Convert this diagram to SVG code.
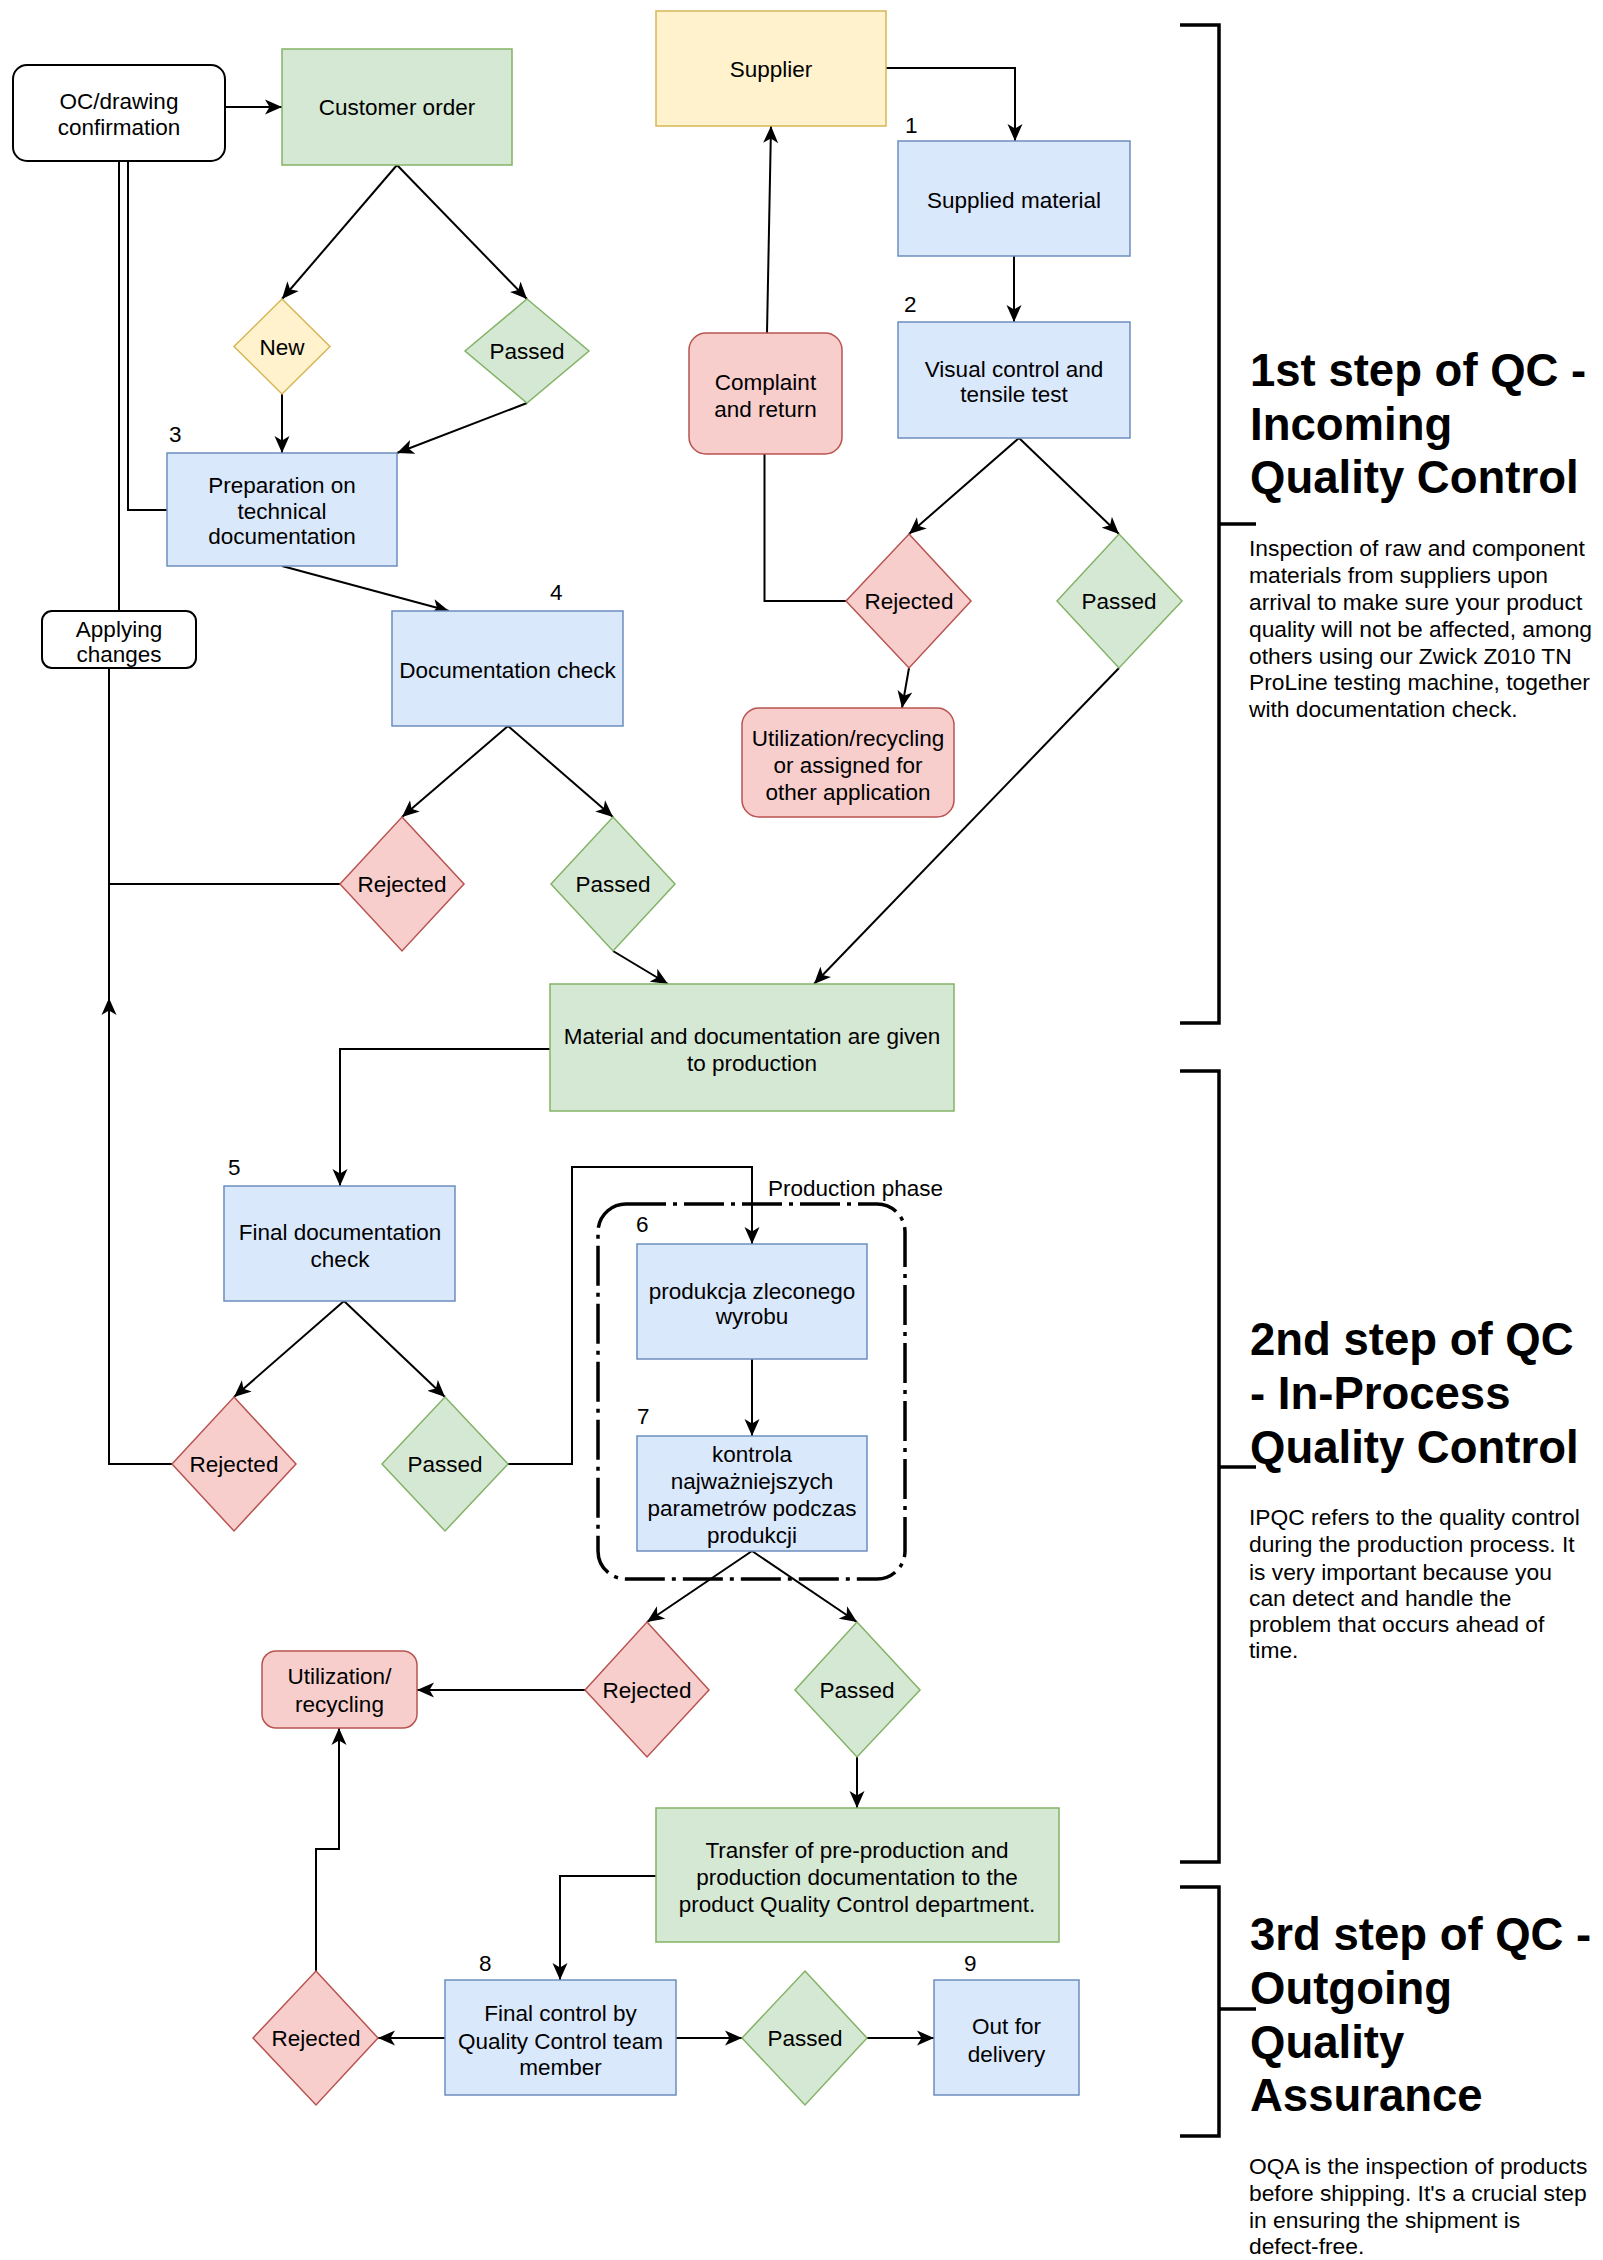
<svg xmlns="http://www.w3.org/2000/svg" width="1603" height="2260" viewBox="0 0 1603 2260">
<defs>
<marker id="arr" markerUnits="userSpaceOnUse" markerWidth="18" markerHeight="16" refX="17" refY="8" orient="auto">
<path d="M0,0.5 L17,8 L0,15.5 L4.5,8 Z" fill="#000"/>
</marker>
<style>
text{font-family:"Liberation Sans",Arial,Helvetica,sans-serif;font-size:22.5px;fill:#000}
.c{text-anchor:middle}
.p{font-size:22.8px}
.blue{fill:#dae8fc;stroke:#6c8ebf;stroke-width:1.5}
.green{fill:#d5e8d4;stroke:#82b366;stroke-width:1.5}
.red{fill:#f8cecc;stroke:#b85450;stroke-width:1.5}
.yellow{fill:#fff2cc;stroke:#d6b656;stroke-width:1.5}
.plain{fill:#fff;stroke:#000;stroke-width:2}
.edge{fill:none;stroke:#000;stroke-width:2}
.ea{marker-end:url(#arr)}
.br{fill:none;stroke:#000;stroke-width:3.5}
.title{font-weight:bold;font-size:45.5px}
.cont{fill:none;stroke:#000;stroke-width:3.5;stroke-dasharray:40 7 4 7}
</style>
</defs>
<rect width="1603" height="2260" fill="#fff"/>

<g id="connectors">
<path class="edge ea" d="M225,107 H282"/>
<path class="edge ea" d="M397,165 L282,299"/>
<path class="edge ea" d="M397,165 L527,299"/>
<path class="edge ea" d="M282,394 V453"/>
<path class="edge ea" d="M527,403 L397,453"/>
<path class="edge" d="M128,161 V510 H167"/>
<path class="edge" d="M119,161 V611"/>
<path class="edge" d="M109,668 V998"/>
<path class="edge ea" d="M172,1464 H109 V998"/>
<path class="edge" d="M340,884 H109"/>
<path class="edge ea" d="M282,566 L449,611"/>
<path class="edge ea" d="M508,726 L402,817"/>
<path class="edge ea" d="M508,726 L613,817"/>
<path class="edge ea" d="M613,951 L668,984"/>
<path class="edge ea" d="M886,68 H1015 V141"/>
<path class="edge ea" d="M1014,256 V322"/>
<path class="edge ea" d="M1019,438 L909,534"/>
<path class="edge ea" d="M1019,438 L1119,534"/>
<path class="edge" d="M846,601 H764.5 V454"/>
<path class="edge ea" d="M767,333 L771,126"/>
<path class="edge ea" d="M909,668 L902,708"/>
<path class="edge ea" d="M1119,668 L814,984"/>
<path class="edge ea" d="M550,1049 H340 V1186"/>
<path class="edge ea" d="M344,1301 L234,1397"/>
<path class="edge ea" d="M344,1301 L445,1397"/>
<path class="edge ea" d="M508,1464 H572 V1167 H752 V1244"/>
<path class="edge ea" d="M752,1359 V1436"/>
<path class="edge ea" d="M752,1551 L647,1622"/>
<path class="edge ea" d="M752,1551 L857,1622"/>
<path class="edge ea" d="M585,1690 H417"/>
<path class="edge ea" d="M857,1757 V1808"/>
<path class="edge ea" d="M656,1876 H560 V1980"/>
<path class="edge ea" d="M445,2038 H378"/>
<path class="edge ea" d="M676,2038 H742"/>
<path class="edge ea" d="M867,2038 H934"/>
<path class="edge ea" d="M316,1971 V1849 H339 V1728"/>
</g>

<g id="production-phase">
<rect class="cont" x="598" y="1204" width="307" height="375" rx="28"/>
<text x="768" y="1196">Production phase</text>
</g>

<g id="oc-confirmation">
<rect class="plain" x="13" y="65" width="212" height="96" rx="14"/>
<text class="c" x="119" y="109">OC/drawing</text>
<text class="c" x="119" y="135">confirmation</text>
</g>
<g id="customer-order">
<rect class="green" x="282" y="49" width="230" height="116"/>
<text class="c" x="397" y="115">Customer order</text>
</g>
<g id="supplier">
<rect class="yellow" x="656" y="11" width="230" height="115"/>
<text class="c" x="771" y="77">Supplier</text>
</g>
<g id="supplied-material">
<rect class="blue" x="898" y="141" width="232" height="115"/>
<text class="c" x="1014" y="208">Supplied material</text>
<text x="905" y="133">1</text>
</g>
<g id="visual-control">
<rect class="blue" x="898" y="322" width="232" height="116"/>
<text class="c" x="1014" y="377">Visual control and</text>
<text class="c" x="1014" y="402">tensile test</text>
<text x="904" y="312">2</text>
</g>
<g id="complaint">
<rect class="red" x="689" y="333" width="153" height="121" rx="17"/>
<text class="c" x="765.5" y="390">Complaint</text>
<text class="c" x="765.5" y="417">and return</text>
</g>
<g id="new">
<polygon class="yellow" points="282,299 330,346.5 282,394 234,346.5"/>
<text class="c" x="282" y="355">New</text>
</g>
<g id="passed-order">
<polygon class="green" points="527,299 589,351 527,403 465,351"/>
<text class="c" x="527" y="359">Passed</text>
</g>
<g id="preparation">
<rect class="blue" x="167" y="453" width="230" height="113"/>
<text class="c" x="282" y="493">Preparation on</text>
<text class="c" x="282" y="519">technical</text>
<text class="c" x="282" y="544">documentation</text>
<text x="169" y="442">3</text>
</g>
<g id="applying-changes">
<rect class="plain" x="42" y="611" width="154" height="57" rx="10"/>
<text class="c" x="119" y="637">Applying</text>
<text class="c" x="119" y="662">changes</text>
</g>
<g id="documentation-check">
<rect class="blue" x="392" y="611" width="231" height="115"/>
<text class="c" x="507.5" y="678">Documentation check</text>
<text x="550" y="600">4</text>
</g>
<g id="rejected-incoming">
<polygon class="red" points="909,534 971,601 909,668 846,601"/>
<text class="c" x="909" y="609">Rejected</text>
</g>
<g id="passed-incoming">
<polygon class="green" points="1119,534 1182,601 1119,668 1057,601"/>
<text class="c" x="1119" y="609">Passed</text>
</g>
<g id="utilization-incoming">
<rect class="red" x="742" y="708" width="212" height="109" rx="17"/>
<text class="c" x="848" y="746">Utilization/recycling</text>
<text class="c" x="848" y="773">or assigned for</text>
<text class="c" x="848" y="800">other application</text>
</g>
<g id="rejected-doc">
<polygon class="red" points="402,817 464,884 402,951 340,884"/>
<text class="c" x="402" y="892">Rejected</text>
</g>
<g id="passed-doc">
<polygon class="green" points="613,817 675,884 613,951 551,884"/>
<text class="c" x="613" y="892">Passed</text>
</g>
<g id="material-to-production">
<rect class="green" x="550" y="984" width="404" height="127"/>
<text class="c" x="752" y="1044">Material and documentation are given</text>
<text class="c" x="752" y="1071">to production</text>
</g>
<g id="final-documentation-check">
<rect class="blue" x="224" y="1186" width="231" height="115"/>
<text class="c" x="340" y="1240">Final documentation</text>
<text class="c" x="340" y="1267">check</text>
<text x="228" y="1175">5</text>
</g>
<g id="rejected-final-doc">
<polygon class="red" points="234,1397 296,1464 234,1531 172,1464"/>
<text class="c" x="234" y="1472">Rejected</text>
</g>
<g id="passed-final-doc">
<polygon class="green" points="445,1397 508,1464 445,1531 382,1464"/>
<text class="c" x="445" y="1472">Passed</text>
</g>
<g id="production">
<rect class="blue" x="637" y="1244" width="230" height="115"/>
<text class="c" x="752" y="1299">produkcja zleconego</text>
<text class="c" x="752" y="1324">wyrobu</text>
<text x="636" y="1232">6</text>
</g>
<g id="parameter-control">
<rect class="blue" x="637" y="1436" width="230" height="115"/>
<text class="c" x="752" y="1462">kontrola</text>
<text class="c" x="752" y="1489">najważniejszych</text>
<text class="c" x="752" y="1516">parametrów podczas</text>
<text class="c" x="752" y="1543">produkcji</text>
<text x="637" y="1424">7</text>
</g>
<g id="rejected-production">
<polygon class="red" points="647,1622 709,1690 647,1757 585,1690"/>
<text class="c" x="647" y="1698">Rejected</text>
</g>
<g id="passed-production">
<polygon class="green" points="857,1622 920,1690 857,1757 795,1690"/>
<text class="c" x="857" y="1698">Passed</text>
</g>
<g id="utilization-recycling">
<rect class="red" x="262" y="1651" width="155" height="77" rx="14"/>
<text class="c" x="339.5" y="1684">Utilization/</text>
<text class="c" x="339.5" y="1712">recycling</text>
</g>
<g id="transfer">
<rect class="green" x="656" y="1808" width="403" height="134"/>
<text class="c" x="857" y="1858">Transfer of pre-production and</text>
<text class="c" x="857" y="1885">production documentation to the</text>
<text class="c" x="857" y="1912">product Quality Control department.</text>
</g>
<g id="final-control">
<rect class="blue" x="445" y="1980" width="231" height="115"/>
<text class="c" x="560.5" y="2021">Final control by</text>
<text class="c" x="560.5" y="2049">Quality Control team</text>
<text class="c" x="560.5" y="2075">member</text>
<text x="479" y="1971">8</text>
</g>
<g id="rejected-final">
<polygon class="red" points="316,1971 378,2038 316,2105 253,2038"/>
<text class="c" x="316" y="2046">Rejected</text>
</g>
<g id="passed-final">
<polygon class="green" points="805,1971 867,2038 805,2105 742,2038"/>
<text class="c" x="805" y="2046">Passed</text>
</g>
<g id="out-for-delivery">
<rect class="blue" x="934" y="1980" width="145" height="115"/>
<text class="c" x="1006.5" y="2034">Out for</text>
<text class="c" x="1006.5" y="2062">delivery</text>
<text x="964" y="1971">9</text>
</g>

<g id="step1">
<path class="br" d="M1180,25 H1219 V1023 H1180 M1219,524 H1256"/>
<text class="title" x="1250" y="386">1st step of QC -</text>
<text class="title" x="1250" y="439.5">Incoming</text>
<text class="title" x="1250" y="493">Quality Control</text>
<text class="p" x="1249" y="556">Inspection of raw and component</text>
<text class="p" x="1249" y="583">materials from suppliers upon</text>
<text class="p" x="1249" y="610">arrival to make sure your product</text>
<text class="p" x="1249" y="637">quality will not be affected, among</text>
<text class="p" x="1249" y="664">others using our Zwick Z010 TN</text>
<text class="p" x="1249" y="690">ProLine testing machine, together</text>
<text class="p" x="1249" y="717">with documentation check.</text>
</g>
<g id="step2">
<path class="br" d="M1180,1071 H1219 V1862 H1180 M1219,1467 H1256"/>
<text class="title" x="1250" y="1355">2nd step of QC</text>
<text class="title" x="1250" y="1409">- In-Process</text>
<text class="title" x="1250" y="1463">Quality Control</text>
<text class="p" x="1249" y="1525">IPQC refers to the quality control</text>
<text class="p" x="1249" y="1552">during the production process. It</text>
<text class="p" x="1249" y="1580">is very important because you</text>
<text class="p" x="1249" y="1606">can detect and handle the</text>
<text class="p" x="1249" y="1632">problem that occurs ahead of</text>
<text class="p" x="1249" y="1658">time.</text>
</g>
<g id="step3">
<path class="br" d="M1180,1887 H1219 V2136 H1180 M1219,2009 H1256"/>
<text class="title" x="1250" y="1950">3rd step of QC -</text>
<text class="title" x="1250" y="2004">Outgoing</text>
<text class="title" x="1250" y="2058">Quality</text>
<text class="title" x="1250" y="2111">Assurance</text>
<text class="p" x="1249" y="2174">OQA is the inspection of products</text>
<text class="p" x="1249" y="2201">before shipping. It's a crucial step</text>
<text class="p" x="1249" y="2228">in ensuring the shipment is</text>
<text class="p" x="1249" y="2254">defect-free.</text>
</g>
</svg>
